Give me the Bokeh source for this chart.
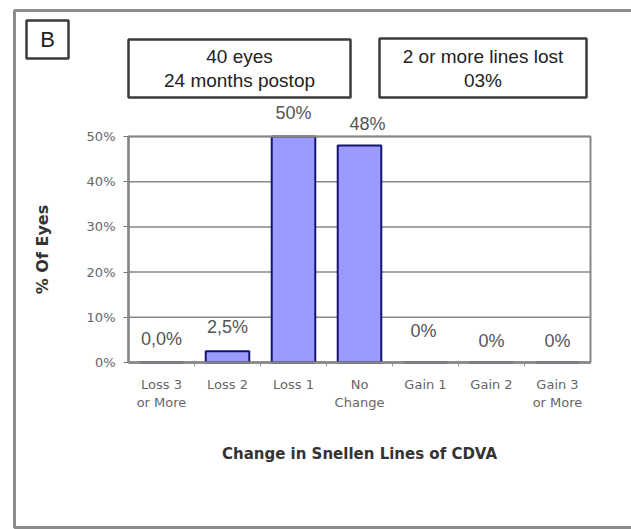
from bokeh.plotting import figure
from bokeh.models import (ColumnDataSource, Range1d, FixedTicker, PrintfTickFormatter,
                          LabelSet, Label, BoxAnnotation)
from bokeh.core.properties import value
from bokeh.embed import file_html
from bokeh.resources import INLINE

# Change in Snellen lines of CDVA, 40 eyes at 24 months
categories = ["Loss 3\nor More", "Loss 2", "Loss 1", "No\nChange",
              "Gain 1", "Gain 2", "Gain 3\nor More"]
percent_eyes = [0.0, 2.5, 50.0, 48.0, 0.0, 0.0, 0.0]
value_labels = ["0,0%", "2,5%", "50%", "48%", "0%", "0%", "0%"]
y_ticks = [0, 10, 20, 30, 40, 50]

# small per-label nudges (pixels) for the value labels
label_dx = [0, 0, 0, 8, -2, 0, 0]
label_dy = [24, 24, 24, 22, 32, 22, 22]

W, H = 631, 529
FL, FR, FT, FB = 128, 590, 136, 362   # plot area edges in pixels
X0, X1 = -0.5, len(categories) - 0.5
Y0, Y1 = 0, 50

def px_x(px):
    return X0 + (px - FL) * (X1 - X0) / (FR - FL)

def px_y(py):
    return Y0 + (FB - py) * (Y1 - Y0) / (FB - FT)

# the frame spans the whole canvas; the plot area sits inside it
p = figure(width=W, height=H, output_backend="svg", toolbar_location=None,
           x_range=Range1d(px_x(0), px_x(W)), y_range=Range1d(px_y(H), px_y(0)),
           min_border=0)
p.background_fill_color = "white"
p.border_fill_color = "white"
p.outline_line_color = None
p.grid.visible = False

xs = list(range(len(categories)))
src = ColumnDataSource(dict(x=xs, top=percent_eyes, txt=value_labels,
                            dx=label_dx, dy=label_dy))

# horizontal gridlines across the plot area
p.segment(x0=X0, x1=X1, y0=y_ticks, y1=y_ticks, line_color="#888888", line_width=1.5)
p.add_layout(BoxAnnotation(left=X0, right=X1, bottom=Y0, top=Y1, fill_alpha=0,
                           line_color="#888888", line_alpha=1, line_width=2))

p.vbar(x="x", top="top", width=0.66, source=src,
       fill_color="#9a9aff", line_color="#14146e", line_width=2)

# axes, pinned to the plot area edges
p.yaxis.fixed_location = X0
p.yaxis.bounds = (Y0, Y1)
p.yaxis.ticker = FixedTicker(ticks=y_ticks)
p.yaxis.formatter = PrintfTickFormatter(format="%d%%")
p.yaxis.minor_tick_line_color = None
p.yaxis.major_tick_in = 0
p.yaxis.major_tick_out = 5
p.yaxis.axis_line_color = "#555555"
p.yaxis.axis_line_width = 2
p.yaxis.major_tick_line_color = "#777777"
p.yaxis.major_label_text_font = "DejaVu Sans"
p.yaxis.major_label_text_font_size = "13px"
p.yaxis.major_label_text_color = "#666666"
p.yaxis.major_label_standoff = 8
p.yaxis.axis_label = "% Of Eyes"
p.yaxis.axis_label_text_font = "DejaVu Sans"
p.yaxis.axis_label_text_font_style = "bold"
p.yaxis.axis_label_text_font_size = "16px"
p.yaxis.axis_label_text_color = "#333333"
p.yaxis.axis_label_standoff = 32

p.xaxis.fixed_location = Y0
p.xaxis.bounds = (X0, X1)
p.xaxis.ticker = FixedTicker(ticks=xs, minor_ticks=[i + 0.5 for i in xs[:-1]])
p.xaxis.major_label_overrides = {i: c for i, c in zip(xs, categories)}
p.xaxis.major_tick_line_color = None
p.xaxis.minor_tick_in = 0
p.xaxis.minor_tick_out = 4
p.xaxis.minor_tick_line_color = "#999999"
p.xaxis.axis_line_color = "#555555"
p.xaxis.axis_line_width = 2
p.xaxis.major_label_text_font = "DejaVu Sans"
p.xaxis.major_label_text_font_size = "13px"
p.xaxis.major_label_text_color = "#666666"
p.xaxis.major_label_standoff = 8
p.xaxis.axis_label = "Change in Snellen Lines of CDVA"
p.xaxis.axis_label_text_font = "DejaVu Sans"
p.xaxis.axis_label_text_font_style = "bold"
p.xaxis.axis_label_text_font_size = "15px"
p.xaxis.axis_label_text_color = "#333333"
p.xaxis.axis_label_standoff = 32

# value labels over the bars
p.add_layout(LabelSet(x="x", y="top", text="txt", source=src,
                      x_offset="dx", y_offset="dy",
                      text_align="center", text_baseline="middle",
                      text_font=value("Liberation Sans"), text_font_size=value("18px"),
                      text_color="#555555"))

# outer panel frame
p.add_layout(BoxAnnotation(left=px_x(14), right=px_x(700), top=px_y(10), bottom=px_y(527),
                           fill_alpha=0, line_color="#8c8c8c", line_alpha=1, line_width=3))

# panel letter and info boxes
boxes = [
    (26, 68, 20, 58, ["B"], "22px"),
    (128, 350, 39, 97, ["40 eyes", "24 months postop"], "19px"),
    (379, 586, 38, 97, ["2 or more lines lost", "03%"], "19px"),
]
for left, right, top, bottom, lines, size in boxes:
    p.add_layout(BoxAnnotation(left=px_x(left), right=px_x(right),
                               top=px_y(top), bottom=px_y(bottom),
                               fill_color="white", fill_alpha=1,
                               line_color="#3a3a3a", line_alpha=1, line_width=2.5))
    cx = (left + right) / 2
    if len(lines) == 1:
        ys = [(top + bottom) / 2]
    else:
        ys = [(top + bottom) / 2 - 12, (top + bottom) / 2 + 12]
    for t, cy in zip(lines, ys):
        p.add_layout(Label(x=px_x(cx), y=px_y(cy), text=t,
                           text_align="center", text_baseline="middle",
                           text_font="Liberation Sans", text_font_size=size,
                           text_color="#222222"))

open("out.html", "w").write(file_html(p, INLINE))
